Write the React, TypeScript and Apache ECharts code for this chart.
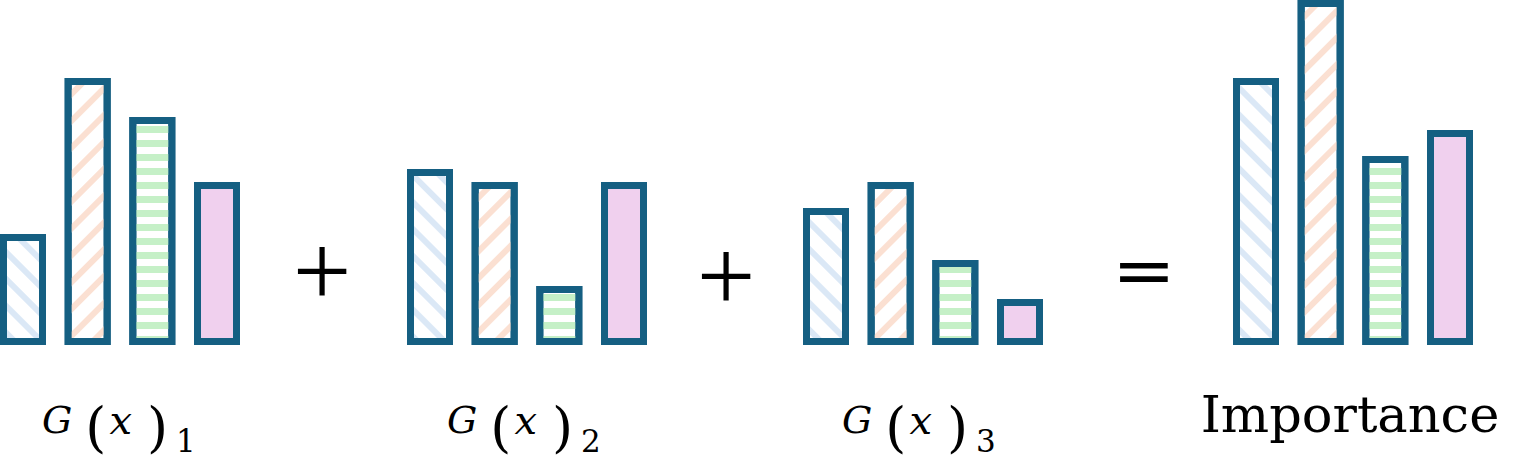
import React, { useEffect, useRef } from "react";
import * as echarts from "echarts";

// ---- data (bar heights) ----
const features = ["f1", "f2", "f3", "f4"];
const g1Values = [111, 267, 228, 163];
const g2Values = [176, 163, 59, 163];
const g3Values = [137, 163, 85, 46];
const importanceValues = [267, 345, 189, 215];
const groupSubscripts = ["1", "2", "3"];
const resultLabel = "Importance";
const operators = ["+", "+", "="];

// ---- styles ----
const BORDER = "#155f82";
const featureStyles = [
  { color: "#ffffff", decal: { symbol: "rect", symbolSize: 1, color: "#dbe8f6", dashArrayX: [1, 0], dashArrayY: [6, 13], rotation: Math.PI / 4 } },
  { color: "#ffffff", decal: { symbol: "rect", symbolSize: 1, color: "#fbe0d2", dashArrayX: [1, 0], dashArrayY: [6, 13], rotation: -Math.PI / 4 } },
  { color: "#ffffff", decal: { symbol: "rect", symbolSize: 1, color: "#c5f0c7", dashArrayX: [1, 0], dashArrayY: [7, 7], rotation: 0 } },
  { color: "#f0d0ee", decal: null },
];

const groups = [g1Values, g2Values, g3Values, importanceValues];
const gridLefts = [23, 430, 826, 1256];
const GRID_W = 194;
const GRID_TOP = 0;
const GRID_H = 345;
const Y_MAX = 345;

export default function App() {
  const ref = useRef<HTMLDivElement>(null);
  useEffect(() => {
    if (!ref.current) return;
    const chart = echarts.init(ref.current, undefined, { renderer: "svg" });
    const grid = groups.map((_, i) => ({
      left: gridLefts[i],
      top: GRID_TOP,
      width: GRID_W,
      height: GRID_H,
      containLabel: false,
    }));
    const xAxis = groups.map((_, i) => ({
      type: "category",
      gridIndex: i,
      data: features,
      boundaryGap: false,
      show: false,
    }));
    const yAxis = groups.map((_, i) => ({
      type: "value",
      gridIndex: i,
      min: 0,
      max: Y_MAX,
      show: false,
      splitLine: { show: false },
    }));
    const series = groups.map((vals, i) => ({
      type: "bar",
      xAxisIndex: i,
      yAxisIndex: i,
      barWidth: 46,
      clip: false,
      silent: true,
      data: vals.map((v, k) => ({
        value: v,
        itemStyle: {
          color: featureStyles[k].color,
          borderColor: BORDER,
          borderWidth: 7,
          ...(featureStyles[k].decal ? { decal: featureStyles[k].decal } : {}),
        },
      })),
    }));

    const labelLefts = [42, 447, 842];
    const richStyles = {
      i: { fontFamily: "DejaVu Serif", fontStyle: "italic", fontSize: 38, verticalAlign: "top", fill: "#000", padding: [1, 0, 0, 0] },
      p: { fontFamily: "DejaVu Serif", fontSize: 54, verticalAlign: "top", fill: "#000", padding: [0, 0, 0, 13] },
      q: { fontFamily: "DejaVu Serif", fontSize: 54, verticalAlign: "top", fill: "#000", padding: [0, 0, 0, 15] },
      x: { fontFamily: "DejaVu Serif", fontStyle: "italic", fontSize: 40, verticalAlign: "top", fill: "#000", padding: [0, 0, 0, 3] },
      s: { fontFamily: "DejaVu Serif", fontSize: 31, verticalAlign: "top", fill: "#000", padding: [25, 0, 0, 8] },
    };
    const graphic: any[] = groupSubscripts.map((sub, i) => ({
      type: "text",
      x: labelLefts[i],
      y: 400,
      style: {
        text: "{i|G}{p|(}{x|x}{q|)}{s|" + sub + "}",
        rich: richStyles,
        align: "left",
        verticalAlign: "top",
        fill: "#000",
      },
    }));
    graphic.push({
      type: "text",
      x: 1350,
      y: 414,
      style: {
        text: resultLabel,
        font: "51px 'DejaVu Serif'",
        align: "center",
        verticalAlign: "middle",
        fill: "#000",
      },
    });
    const opDefs = [
      { x: 322, y: 270, font: "104px 'Liberation Serif'", scaleX: 1 },
      { x: 726, y: 275, font: "104px 'Liberation Serif'", scaleX: 1 },
      { x: 1144, y: 270, font: "68px 'DejaVu Sans'", scaleX: 1.12 },
    ];
    operators.forEach((op, i) => {
      graphic.push({
        type: "text",
        x: opDefs[i].x,
        y: opDefs[i].y,
        scaleX: opDefs[i].scaleX,
        style: {
          text: op,
          font: opDefs[i].font,
          align: "center",
          verticalAlign: "middle",
          fill: "#000",
        },
      });
    });

    chart.setOption({
      animation: false,
      backgroundColor: "#ffffff",
      grid,
      xAxis,
      yAxis,
      series,
      graphic,
    });
    return () => chart.dispose();
  }, []);
  return (
    <div
      ref={ref}
      style={{ position: "fixed", left: 0, top: 0, width: 1520, height: 459 }}
    />
  );
}
